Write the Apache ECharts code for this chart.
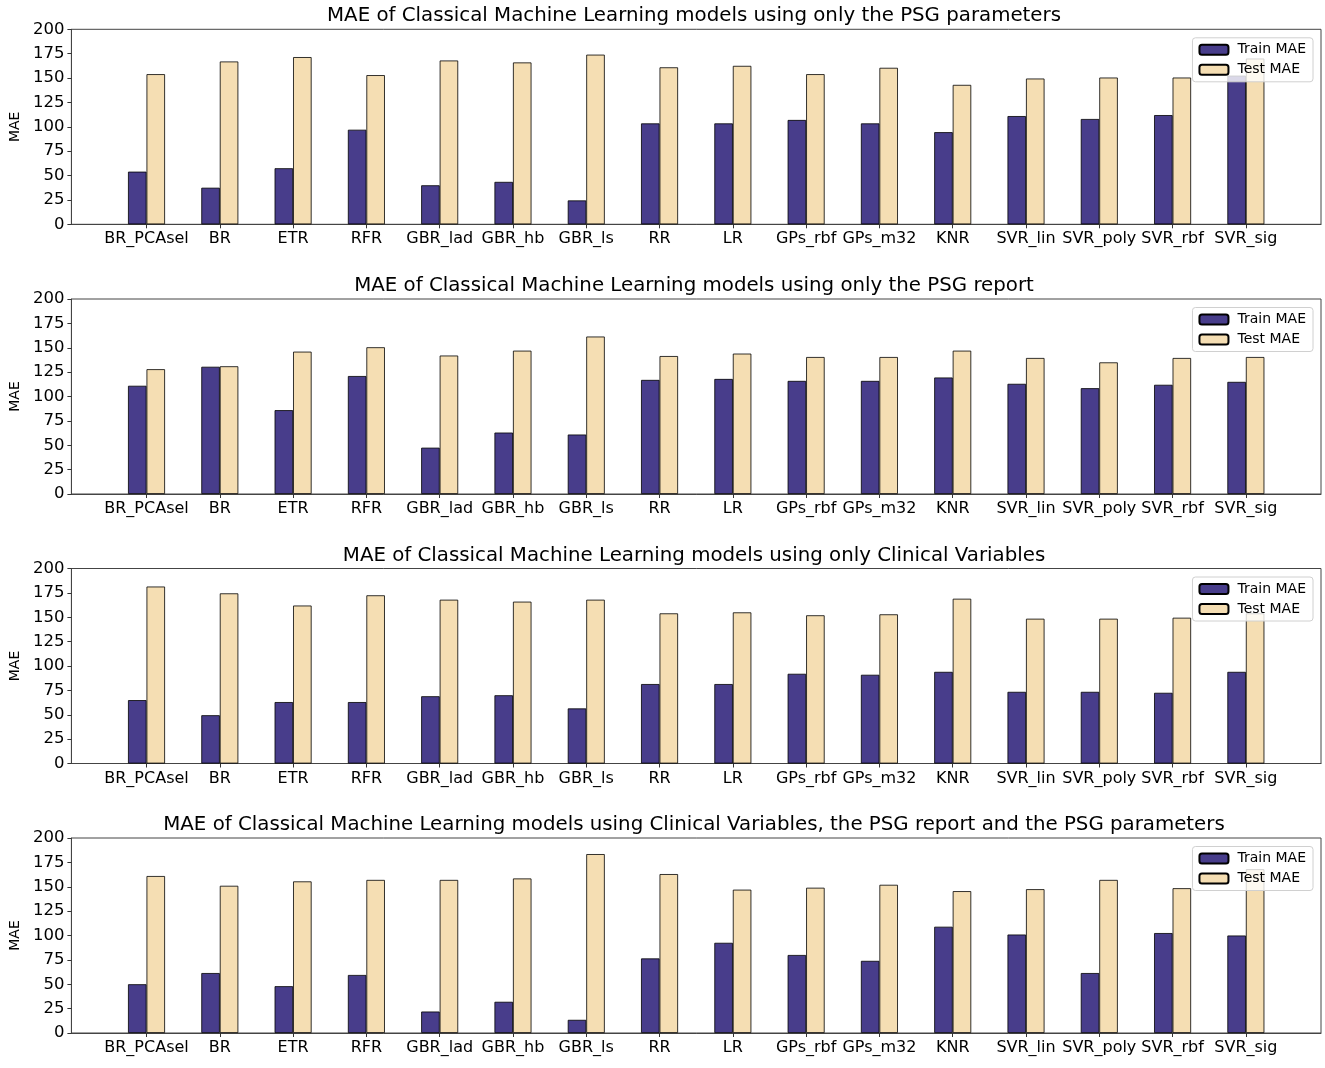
<!DOCTYPE html>
<html>
<head>
<meta charset="utf-8">
<script src="https://cdn.jsdelivr.net/npm/echarts@6/dist/echarts.min.js"></script>
<style>
html,body{margin:0;padding:0;background:#fff;}
#chart{width:1325px;height:1068px;}
</style>
</head>
<body>
<div id="chart"></div>
<script>
const models = ['BR_PCAsel','BR','ETR','RFR','GBR_lad','GBR_hb','GBR_ls','RR','LR','GPs_rbf','GPs_m32','KNR','SVR_lin','SVR_poly','SVR_rbf','SVR_sig'];
const yTicks = [0, 25, 50, 75, 100, 125, 150, 175, 200];

const titles = [
  'MAE of Classical Machine Learning models using only the PSG parameters',
  'MAE of Classical Machine Learning models using only the PSG report',
  'MAE of Classical Machine Learning models using only Clinical Variables',
  'MAE of Classical Machine Learning models using Clinical Variables, the PSG report and the PSG parameters'
];

const trainPSGParams = [54, 37.5, 57.5, 97, 40, 43.5, 24.5, 103.5, 103.5, 107, 103.5, 94.5, 111, 108, 112, 152.5];
const testPSGParams  = [154, 167, 171.5, 153, 168, 166, 174, 161, 162.5, 154, 160.5, 143, 149.5, 150.5, 150.5, 170];

const trainPSGReport = [111, 130.5, 86, 121, 47.5, 63, 61, 117, 118, 116, 116, 119.5, 113, 108.5, 112, 115];
const testPSGReport  = [128, 131, 146, 150.5, 142, 147, 161.5, 141.5, 144, 140.5, 140.5, 147, 139.5, 135, 139.5, 140.5];

const trainClinical = [65, 49.5, 63, 63, 69, 70, 56.5, 81.5, 81.5, 92, 91, 94, 73.5, 73.5, 72.5, 94];
const testClinical  = [181.5, 174.5, 162, 172.5, 168, 166, 168, 154, 155, 152, 153, 169, 148.5, 148.5, 149.5, 154];

const trainAll = [50, 61.5, 48, 59.5, 22, 32, 13.5, 76.5, 92.5, 80, 74, 109, 101, 61.5, 102.5, 100];
const testAll  = [161, 151, 155.5, 157, 157, 158.5, 183.5, 163, 147, 149, 152, 145.5, 147.5, 157, 148.5, 168];

const panels = [
  {train: trainPSGParams, test: testPSGParams},
  {train: trainPSGReport, test: testPSGReport},
  {train: trainClinical, test: testClinical},
  {train: trainAll, test: testAll}
];

const FONT = 'DejaVu Sans';
const gridTops = [29.3, 299, 568.5, 838];
const gridH = 195;
const gridLeft = 67, gridRight = 4;
const plotCenter = gridLeft + (1325 - gridLeft - gridRight) / 2;
const trainColor = '#483D8B';
const testColor = '#F5DEB3';
const barW = 18.5;
const catIdx = models.map((m, i) => i);

const option = {
  animation: false,
  backgroundColor: '#fff',
  title: [], grid: [], xAxis: [], yAxis: [], legend: [], series: []
};

panels.forEach((p, k) => {
  const top = gridTops[k];
  option.title.push({
    text: titles[k], left: plotCenter, textAlign: 'center', top: top - 23, padding: 0,
    textStyle: {fontFamily: FONT, fontSize: 19.8, fontWeight: 'normal', color: '#000'}
  });
  option.grid.push({
    left: gridLeft, right: gridRight, top: top, height: gridH,
    show: true, borderColor: '#444', borderWidth: 1, backgroundColor: 'transparent'
  });
  option.xAxis.push({
    type: 'value', gridIndex: k, min: -1.025, max: 15 + 1.025,
    splitLine: {show: false},
    axisLine: {show: true, onZero: false, lineStyle: {color: '#444', width: 1}},
    axisTick: {show: true, length: 4, lineStyle: {color: '#333'}, customValues: catIdx},
    axisLabel: {
      show: true, customValues: catIdx, margin: 7,
      fontFamily: FONT, fontSize: 16, color: '#000',
      formatter: v => models[Math.round(v)] || ''
    }
  });
  option.yAxis.push({
    type: 'value', gridIndex: k, min: 0, max: 200, interval: 25,
    name: 'MAE', nameLocation: 'middle', nameGap: 46, nameRotate: 90,
    nameTextStyle: {fontFamily: FONT, fontSize: 14, color: '#000'},
    splitLine: {show: false},
    axisLine: {show: true, onZero: false, lineStyle: {color: '#444', width: 1}},
    axisTick: {show: true, length: 4, lineStyle: {color: '#333'}},
    axisLabel: {margin: 7, fontFamily: FONT, fontSize: 16.5, color: '#000'}
  });
  option.legend.push({
    orient: 'vertical', right: 12, top: top + 8.5,
    data: ['Train MAE', 'Test MAE'],
    itemWidth: 29, itemHeight: 10, itemGap: 6,
    padding: [5, 7, 5, 6],
    backgroundColor: 'rgba(255,255,255,0.8)',
    borderColor: '#d0d0d0', borderWidth: 1, borderRadius: 3,
    selectedMode: false,
    textStyle: {fontFamily: FONT, fontSize: 14, color: '#000', padding: [0, 0, 0, 4]}
  });
  option.series.push({
    name: 'Train MAE', type: 'bar', xAxisIndex: k, yAxisIndex: k,
    barWidth: barW, barGap: '0%',
    itemStyle: {color: trainColor, borderColor: '#000', borderWidth: 0.8},
    data: p.train.map((v, i) => [i, v])
  });
  option.series.push({
    name: 'Test MAE', type: 'bar', xAxisIndex: k, yAxisIndex: k,
    barWidth: barW, barGap: '0%',
    itemStyle: {color: testColor, borderColor: '#000', borderWidth: 0.8},
    data: p.test.map((v, i) => [i, v])
  });
});

const chart = echarts.init(document.getElementById('chart'), null, {renderer: 'canvas'});
chart.setOption(option);
</script>
</body>
</html>
